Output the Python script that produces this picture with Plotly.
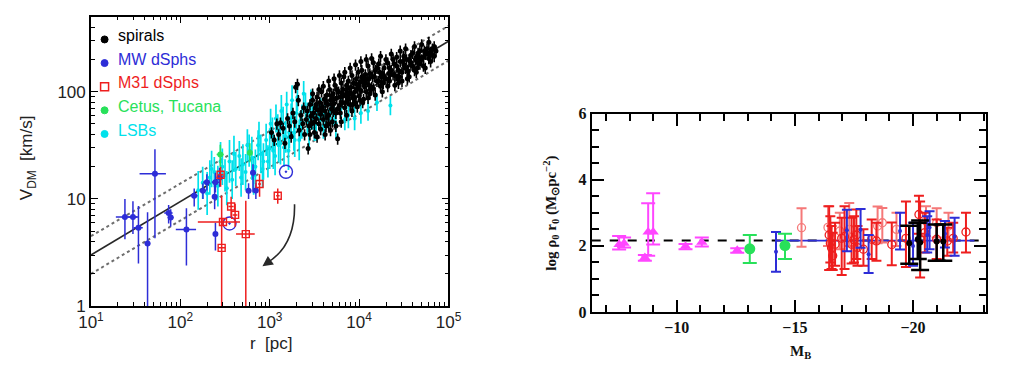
import plotly.graph_objects as go

W, H = 1010, 381

# ---------------- Left panel data: V_DM vs r ----------------
spiral_logr = [3.02,3.05,3.08,3.10,3.12,3.15,3.17,3.20,3.22,3.24,3.26,3.28,3.29,3.31,3.32,3.33,3.35,3.37,3.38,3.39,
               3.41,3.42,3.43,3.44,3.45,3.46,3.47,3.48,3.49,3.50,3.51,3.52,3.53,3.54,3.55,3.56,3.57,3.58,3.59,3.60,
               3.61,3.62,3.63,3.64,3.65,3.66,3.67,3.68,3.69,3.70,3.71,3.72,3.73,3.74,3.75,3.76,3.77,3.78,3.79,3.80,
               3.81,3.82,3.83,3.84,3.85,3.86,3.87,3.88,3.89,3.90,3.91,3.92,3.93,3.94,3.95,3.96,3.97,3.98,3.99,4.00,
               4.01,4.02,4.03,4.04,4.05,4.06,4.07,4.08,4.09,4.10,4.11,4.12,4.14,4.15,4.16,4.18,4.20,4.22,4.24,4.26,
               4.28,4.30,4.32,4.34,4.36,4.38,4.40,4.42,4.44,4.46,4.48,4.50,4.52,4.54,4.56,4.58,4.60,4.62,4.64,4.66,
               4.68,4.70,4.72,4.74,4.76,4.78,4.80,4.82,4.84,3.58,3.72,3.86,3.95,4.05,4.13,4.25,4.35,4.45,4.55,4.65,
               3.45,3.48,3.50,3.53,3.55,3.57,3.60,3.62,3.64,3.66,3.68,3.70,3.72,3.74,3.76,3.78,3.80,3.82,3.84,3.86,
               3.88,3.90,3.92,3.94,3.96,3.98,4.00,4.02,4.04,4.06,4.08,4.10,4.12,4.14,4.16,4.18,4.20,4.22,4.24,4.26,
               4.28,4.30,4.32,4.34,4.36,4.38,4.40,4.42,4.44,4.46,4.48,4.50,4.52,4.54,4.56,4.58,4.60,4.62,4.64,4.66,
               4.68,4.70,4.72,4.74,4.76,4.78,4.80,4.82,4.84,4.86,3.52,3.58,3.63,3.69,3.75,3.81,3.87,3.91,3.97,4.03,
               4.07,4.11,4.17,4.23,4.27,4.33,4.39,4.43,4.49,4.53,4.57,4.63,4.67,4.73,4.79,3.66,3.71,3.79,3.85,3.93,
               4.01]
spiral_logv = [1.62,1.55,1.70,1.60,1.71,1.66,1.52,1.75,1.68,1.58,1.80,1.72,2.04,2.07,1.92,1.64,1.78,1.70,1.85,1.60,
               1.74,1.82,1.47,1.68,1.88,1.77,1.70,1.92,1.80,1.62,1.85,1.75,1.95,1.83,1.70,1.90,1.79,2.00,1.86,1.74,
               1.93,1.82,1.68,1.97,1.88,1.78,2.02,1.92,1.84,1.72,1.98,1.89,2.06,1.80,1.94,1.56,2.00,1.87,1.95,2.08,
               1.90,2.02,2.14,1.85,1.97,2.06,1.92,2.10,1.99,1.88,2.04,2.15,1.95,2.08,2.00,1.90,2.12,2.03,2.18,1.96,
               2.09,2.01,2.20,2.11,1.93,2.05,2.16,2.00,2.12,2.24,2.06,1.98,2.31,2.14,2.03,2.20,2.10,2.26,2.05,2.17,
               2.22,2.12,2.27,2.10,2.20,2.30,2.15,2.24,2.08,2.28,2.18,2.33,2.22,2.12,2.30,2.25,2.36,2.20,2.32,2.27,
               2.38,2.30,2.24,2.35,2.40,2.31,2.37,2.34,2.42,1.84,1.93,1.98,1.94,2.08,2.02,2.14,2.16,2.14,2.19,2.22,
               1.60,1.98,1.72,1.58,2.02,1.65,2.05,1.60,1.76,2.10,1.64,1.88,2.12,1.68,1.84,2.15,1.72,1.96,2.18,1.78,
               1.94,2.22,1.82,1.95,2.25,1.86,2.06,2.28,1.90,2.12,2.30,1.94,2.17,2.04,2.27,1.97,2.22,2.10,2.33,2.00,
               2.14,2.30,2.05,2.22,2.35,2.16,2.06,2.32,2.20,2.38,2.10,2.25,2.40,2.20,2.14,2.34,2.24,2.42,2.18,2.36,
               2.26,2.44,2.32,2.22,2.35,2.46,2.28,2.40,2.33,2.38,1.88,1.84,1.90,1.96,2.02,1.99,2.03,1.98,2.07,2.14,
               2.08,2.12,2.14,2.18,2.08,2.17,2.26,2.12,2.28,2.30,2.28,2.30,2.32,2.38,2.36,1.70,1.82,1.80,1.90,1.88,
               1.92]

lsb_logr = [2.20,2.25,2.30,2.33,2.38,2.42,2.47,2.50,2.55,2.58,2.62,2.66,2.70,2.73,2.77,2.80,2.84,2.87,2.90,2.93,
            2.96,3.00,3.03,3.06,3.09,3.12,3.15,3.18,3.21,3.24,3.27,3.30,3.33,3.36,3.40,3.44,3.48,3.52,3.57,3.62,
            3.68,3.74,3.80,3.88,3.95,4.02,4.10,4.20,4.35,
            2.98,3.01,3.04,3.07,3.10,3.13,3.16,3.19,3.22,3.25,3.28,3.31,3.34,3.38,3.42,3.46,3.50,3.55,3.60,3.66,
            3.72,3.84,2.35,2.45,2.52,2.60,2.68,2.75,2.82,2.88,2.92]
lsb_logv = [1.08,1.15,1.05,1.20,1.25,1.12,1.30,1.22,1.35,1.18,1.28,1.40,1.32,1.25,1.45,1.38,1.30,1.50,1.42,1.35,
            1.55,1.47,1.60,1.40,1.65,1.52,1.70,1.58,1.45,1.75,1.62,1.80,1.55,1.72,1.85,1.65,1.78,1.70,1.82,1.75,
            1.80,1.70,1.86,1.78,1.75,1.80,1.82,1.90,1.87,
            1.35,1.70,1.45,1.75,1.50,1.82,1.48,1.88,1.62,1.92,1.55,1.95,1.68,1.98,1.75,1.90,1.66,1.78,1.68,1.74,
            1.78,1.74,1.28,1.35,1.10,1.42,1.20,1.50,1.22,1.58,1.28]
lsb_dlog = [0.18,0.15,0.20,0.16,0.14,0.19,0.17,0.15,0.20,0.18,0.16,0.14,0.19,0.17,0.15,0.20,0.16,0.14,0.18,0.17,
            0.15,0.19,0.16,0.18,0.14,0.20,0.16,0.15,0.18,0.14,0.17,0.15,0.19,0.16,0.14,0.18,0.13,0.16,0.12,0.15,
            0.11,0.14,0.10,0.12,0.11,0.10,0.09,0.08,0.09,
            0.15,0.14,0.17,0.13,0.16,0.15,0.18,0.12,0.15,0.14,0.16,0.13,0.14,0.12,0.15,0.12,0.12,0.10,0.12,0.10,
            0.10,0.10,0.17,0.18,0.16,0.17,0.18,0.15,0.18,0.14,0.17]

mw_r    = [24, 29.5, 34, 43, 52, 74, 78, 117, 143, 179, 198, 247, 275, 242, 247, 580, 650, 700]
mw_v    = [6.8, 6.8, 5.4, 3.85, 17.2, 7.4, 6.7, 5.2, 10.7, 11.9, 14.3, 14.3, 15.8, 10.5, 4.7, 11.9, 17.5, 12.0]
mw_rlo  = [19, 26, 30, 40, 35, 66, 72, 89, 130, 165, 180, 225, 255, 230, 238, 540, 610, 670]
mw_rhi  = [34, 33, 38, 46, 69, 82, 84, 150, 156, 195, 215, 270, 300, 255, 256, 620, 700, 730]
mw_vlo  = [4.2, 4.7, 2.5, 0.5, 4.3, 5.9, 5.5, 2.4, 8.5, 10.0, 12.0, 11.5, 13.0, 8.0, 3.3, 10.0, 11.5, 10.0]
mw_vhi  = [10.0, 9.5, 8.6, 7.5, 29, 8.8, 8.0, 8.2, 12.5, 14.0, 17.0, 17.5, 19.5, 13.5, 6.0, 14.0, 21.0, 14.0]
mw_circ_r = [355, 1520]
mw_circ_v = [5.9, 17.9]

m31_r   = [282, 290, 370, 410, 540, 770, 1230, 300]
m31_v   = [16.8, 3.5, 8.5, 7.1, 4.7, 13.8, 10.7, 6.1]
m31_rlo = [265, 265, 345, 385, 420, 740, 1180, 157]
m31_rhi = [300, 320, 395, 435, 680, 800, 1290, 465]
m31_vlo = [13, 0.5, 6.8, 5.5, 0.5, 10.5, 9.0, 5.6]
m31_vhi = [20, 10.7, 10.5, 9.0, 9.6, 17, 12.5, 6.6]

ct_r   = [280, 600]
ct_v   = [26, 27]
ct_rlo = [255, 570]
ct_rhi = [305, 630]
ct_vlo = [20, 22]
ct_vhi = [32, 33]

fit_r    = [10, 1e5]
fit_v    = [3.0, 295]
fit_v_hi = [4.5, 410]
fit_v_lo = [2.0, 195]

# ---------------- Right panel data: log rho0 r0 vs M_B ----------------
mag_M  = [-7.56, -7.77, -8.65, -8.79, -9.00, -10.37, -11.06, -12.56]
mag_y  = [2.04, 2.08, 1.65, 2.42, 2.42, 1.99, 2.11, 1.87]
mag_lo = [1.89, 1.95, 1.55, 1.70, 2.04, 1.90, 1.98, 1.79]
mag_hi = [2.30, 2.25, 1.72, 3.29, 3.59, 2.06, 2.25, 1.93]

grn_M  = [-13.09, -14.58]
grn_y  = [1.91, 2.01]
grn_lo = [1.48, 1.60]
grn_hi = [2.33, 2.37]

blu_M  = [-14.20, -17.20, -17.78, -18.12, -19.45, -20.00, -20.60, -20.70, -21.35, -21.76]
blu_y  = [1.82, 2.47, 2.49, 1.75, 2.45, 2.00, 2.33, 2.56, 2.37, 2.28]
blu_lo = [1.22, 1.84, 1.94, 1.18, 1.89, 1.40, 1.80, 1.90, 1.95, 1.70]
blu_hi = [2.42, 3.09, 3.12, 2.33, 3.00, 2.70, 2.90, 3.05, 2.75, 2.85]

red_M  = [-16.45, -16.50, -16.55, -16.60, -16.70, -16.98, -17.10, -17.40, -17.50, -17.60, -17.65, -17.90,
          -18.25, -18.45, -19.10, -19.70, -20.25, -20.30, -20.50, -21.00, -21.45, -21.70, -22.24]
red_y  = [2.33, 2.08, 1.94, 1.70, 2.05, 2.23, 2.28, 2.05, 2.19, 2.33, 1.95, 1.90,
          2.20, 2.15, 2.04, 2.23, 2.95, 2.18, 2.40, 2.20, 2.15, 2.23, 2.42]
red_lo = [1.27, 1.50, 1.30, 1.27, 1.40, 1.12, 1.30, 1.47, 1.50, 1.60, 1.40, 1.40,
          1.60, 1.55, 1.41, 1.36, 2.37, 1.04, 1.80, 1.60, 1.70, 1.80, 1.80]
red_hi = [3.20, 2.90, 2.60, 2.40, 2.70, 2.85, 3.20, 2.85, 2.90, 3.10, 2.60, 2.50,
          2.80, 2.70, 2.71, 3.34, 3.52, 3.34, 3.00, 2.80, 2.55, 2.70, 3.00]

pnk_M  = [-15.28, -16.40, -16.90, -17.30, -18.50, -18.70, -19.30, -20.55, -21.00, -21.50]
pnk_y  = [2.55, 2.56, 2.45, 2.50, 2.60, 2.70, 2.50, 2.75, 2.70, 2.60]
pnk_lo = [1.97, 2.00, 1.90, 2.00, 2.08, 2.10, 2.00, 2.30, 2.25, 2.20]
pnk_hi = [3.14, 3.20, 3.00, 3.30, 3.19, 3.15, 3.00, 3.20, 3.14, 3.00]

blk_M  = [-19.84, -20.20, -20.30, -21.00, -21.28]
blk_y  = [2.08, 2.20, 2.10, 2.13, 2.13]
blk_lo = [1.46, 1.60, 1.27, 1.55, 1.55]
blk_hi = [2.61, 2.70, 2.77, 2.65, 2.65]

fit_level = 2.16
fit_M_full = [-6.4, -23.1]
blue_fit_M = [-14.2, -22.6]

# ---------------- colours ----------------
C_BLUE = "rgb(45,45,215)"
C_RED = "rgb(238,30,30)"
C_PINK = "rgb(245,120,120)"
C_GREEN = "rgb(40,225,90)"
C_CYAN = "rgb(0,225,235)"
C_MAG = "rgb(255,70,255)"


def asym(v, lo, hi, color, thick=1.5, width=0):
    return dict(type="data", symmetric=False,
                array=[h - x for x, h in zip(v, hi)],
                arrayminus=[x - l for x, l in zip(v, lo)],
                color=color, thickness=thick, width=width)


fig = go.Figure()

# fit lines (left)
fig.add_trace(go.Scatter(x=fit_r, y=fit_v_hi, mode="lines",
                         line=dict(color="rgb(110,110,110)", width=2, dash="dot")))
fig.add_trace(go.Scatter(x=fit_r, y=fit_v_lo, mode="lines",
                         line=dict(color="rgb(110,110,110)", width=2, dash="dot")))
fig.add_trace(go.Scatter(x=fit_r, y=fit_v, mode="lines",
                         line=dict(color="rgb(40,40,40)", width=1.6)))

# LSBs
lsb_r = [10 ** a for a in lsb_logr]
lsb_v = [10 ** a for a in lsb_logv]
lsb_lo = [10 ** (a - d) for a, d in zip(lsb_logv, lsb_dlog)]
lsb_hi = [10 ** (a + d) for a, d in zip(lsb_logv, lsb_dlog)]
fig.add_trace(go.Scatter(x=lsb_r, y=lsb_v, mode="markers",
                         marker=dict(color=C_CYAN, size=4),
                         error_y=asym(lsb_v, lsb_lo, lsb_hi, C_CYAN, 1.7)))

# spirals
sp_r = [10 ** a for a in spiral_logr]
sp_v = [10 ** a for a in spiral_logv]
fig.add_trace(go.Scatter(x=sp_r, y=sp_v, mode="markers",
                         marker=dict(color="black", size=5),
                         error_y=dict(type="percent", value=12, color="black", thickness=1.6, width=0)))

# MW dSphs
fig.add_trace(go.Scatter(x=mw_r, y=mw_v, mode="markers",
                         marker=dict(color=C_BLUE, size=6),
                         error_x=asym(mw_r, mw_rlo, mw_rhi, C_BLUE, 1.5),
                         error_y=asym(mw_v, mw_vlo, mw_vhi, C_BLUE, 1.5)))
fig.add_trace(go.Scatter(x=mw_circ_r, y=mw_circ_v, mode="markers",
                         marker=dict(color=C_BLUE, size=13, symbol="circle-open-dot",
                                     line=dict(width=1.4, color=C_BLUE))))

# M31 dSphs
fig.add_trace(go.Scatter(x=m31_r, y=m31_v, mode="markers",
                         marker=dict(color=C_RED, size=7, symbol="square-open", line=dict(width=1.4)),
                         error_x=asym(m31_r, m31_rlo, m31_rhi, C_RED, 1.5),
                         error_y=asym(m31_v, m31_vlo, m31_vhi, C_RED, 1.5)))

# Cetus, Tucana
fig.add_trace(go.Scatter(x=ct_r, y=ct_v, mode="markers",
                         marker=dict(color=C_GREEN, size=6),
                         error_x=asym(ct_r, ct_rlo, ct_rhi, C_GREEN, 1.5),
                         error_y=asym(ct_v, ct_vlo, ct_vhi, C_GREEN, 1.5)))

# ---------------- right panel traces ----------------
R = dict(xaxis="x2", yaxis="y2")
fig.add_trace(go.Scatter(x=fit_M_full, y=[fit_level] * 2, mode="lines",
                         line=dict(color="black", width=2, dash="dash"), **R))
fig.add_trace(go.Scatter(x=blue_fit_M, y=[fit_level] * 2, mode="lines",
                         line=dict(color=C_BLUE, width=1.6), **R))
fig.add_trace(go.Scatter(x=pnk_M, y=pnk_y, mode="markers",
                         marker=dict(color=C_PINK, size=8, symbol="circle-open", line=dict(width=1.3)),
                         error_y=asym(pnk_y, pnk_lo, pnk_hi, C_PINK, 2, 5), **R))
fig.add_trace(go.Scatter(x=red_M, y=red_y, mode="markers",
                         marker=dict(color=C_RED, size=8, symbol="circle-open", line=dict(width=1.3)),
                         error_y=asym(red_y, red_lo, red_hi, C_RED, 2, 5), **R))
fig.add_trace(go.Scatter(x=blu_M, y=blu_y, mode="markers",
                         marker=dict(color=C_BLUE, size=4),
                         error_y=asym(blu_y, blu_lo, blu_hi, C_BLUE, 2, 5), **R))
fig.add_trace(go.Scatter(x=blk_M, y=blk_y, mode="markers",
                         marker=dict(color="black", size=6),
                         error_y=asym(blk_y, blk_lo, blk_hi, "black", 2.5, 9), **R))
fig.add_trace(go.Scatter(x=mag_M, y=mag_y, mode="markers",
                         marker=dict(color=C_MAG, size=10, symbol="triangle-up"),
                         error_y=asym(mag_y, mag_lo, mag_hi, C_MAG, 2, 7), **R))
fig.add_trace(go.Scatter(x=grn_M, y=grn_y, mode="markers",
                         marker=dict(color=C_GREEN, size=11),
                         error_y=asym(grn_y, grn_lo, grn_hi, C_GREEN, 2, 7), **R))

# ---------------- axes ----------------
SANS = "Liberation Sans, Arial, sans-serif"
SERIF = "Liberation Serif, Times New Roman, serif"

def minor_log(decades, extra=()):
    vals = []
    for d in decades:
        for m in range(2, 10):
            vals.append(m * 10 ** d)
    return vals + list(extra)

common = dict(showline=True, linecolor="black", mirror="ticks", ticks="inside",
              tickcolor="black", showgrid=False, zeroline=False)

fig.update_layout(
    width=W, height=H, autosize=False, margin=dict(l=0, r=0, t=0, b=0),
    paper_bgcolor="white", plot_bgcolor="white", showlegend=False,
    xaxis=dict(type="log", range=[1, 5], domain=[80 / W, 447 / W], anchor="y",
               tickvals=[10, 100, 1000, 1e4, 1e5],
               ticktext=["10<sup>1</sup>", "10<sup>2</sup>", "10<sup>3</sup>", "10<sup>4</sup>", "10<sup>5</sup>"],
               ticklen=7, tickwidth=1.2, linewidth=1.5,
               tickfont=dict(family=SANS, size=17, color="#222"),
               minor=dict(tickvals=minor_log([1, 2, 3, 4]), ticks="inside", ticklen=4,
                          tickwidth=1, tickcolor="black", showgrid=False),
               **common),
    yaxis=dict(type="log", range=[0, 2.70], domain=[(H - 313) / H, (H - 9) / H], anchor="x",
               tickvals=[1, 10, 100], ticktext=["1", "10", "100"],
               ticklen=7, tickwidth=1.2, linewidth=1.5,
               tickfont=dict(family=SANS, size=17, color="#222"),
               minor=dict(tickvals=minor_log([0, 1], [200, 300, 400]), ticks="inside", ticklen=4,
                          tickwidth=1, tickcolor="black", showgrid=False),
               **common),
    xaxis2=dict(range=[-6.4, -23.1], domain=[594 / W, 999 / W], anchor="y2",
                tickvals=[-10, -15, -20], ticktext=["\u221210", "\u221215", "\u221220"],
                ticklen=12, tickwidth=2, linewidth=2,
                tickfont=dict(family=SERIF, size=16, color="#111", weight="bold"),
                minor=dict(dtick=1, tick0=0, ticks="inside", ticklen=7, tickwidth=1.6,
                           tickcolor="black", showgrid=False),
                **common),
    yaxis2=dict(range=[0, 6], domain=[(H - 319) / H, (H - 111) / H], anchor="x2",
                tickvals=[0, 2, 4, 6], ticklen=12, tickwidth=2, linewidth=2,
                tickfont=dict(family=SERIF, size=16, color="#111", weight="bold"),
                minor=dict(dtick=0.5, tick0=0, ticks="inside", ticklen=7, tickwidth=1.6,
                           tickcolor="black", showgrid=False),
                **common),
)

# ---------------- titles ----------------
ann = []
ann.append(dict(text="r  [pc]", x=265 / W, y=1 - 352 / H, xref="paper", yref="paper",
                xanchor="center", yanchor="middle",
                showarrow=False, font=dict(family=SANS, size=17, color="#222")))
ann.append(dict(text="V<sub>DM</sub>  [km/s]", x=15 / W, y=1 - 157 / H, xref="paper", yref="paper",
                xanchor="center", yanchor="middle",
                showarrow=False, textangle=-90, font=dict(family=SANS, size=17, color="#222")))
ann.append(dict(text="log \u03c1<sub>0</sub> r<sub>0</sub> (M<sub>\u2299</sub>pc<sup>\u22122</sup>)",
                x=552 / W, y=1 - 215 / H, xref="paper", yref="paper", showarrow=False, textangle=-90,
                xanchor="center", yanchor="middle",
                font=dict(family=SERIF, size=15, color="#111", weight="bold")))
ann.append(dict(text="M<sub>B</sub>", x=808 / W, y=1 - 361 / H, xref="paper", yref="paper",
                xanchor="center", yanchor="middle",
                showarrow=False, font=dict(family=SERIF, size=15, color="#111", weight="bold")))

# legend (left panel)
legend_items = [("spirals", "black"), ("MW dSphs", C_BLUE), ("M31 dSphs", C_RED),
                ("Cetus, Tucana", C_GREEN), ("LSBs", C_CYAN)]
shapes = []
for i, (name, col) in enumerate(legend_items):
    ty = 29 + 24.8 * i
    ann.append(dict(text=name, x=106 / W, y=1 - ty / H, xref="paper", yref="paper",
                    xanchor="left", yanchor="middle", showarrow=False,
                    font=dict(family=SANS, size=16, color=col)))
    my = ty + 4
    if name == "M31 dSphs":
        shapes.append(dict(type="rect", xref="paper", yref="paper", xsizemode="pixel", ysizemode="pixel",
                           xanchor=94 / W, yanchor=1 - my / H, x0=-4, x1=4, y0=-4, y1=4,
                           line=dict(color=C_RED, width=1.5), fillcolor="white"))
    else:
        shapes.append(dict(type="circle", xref="paper", yref="paper", xsizemode="pixel", ysizemode="pixel",
                           xanchor=94 / W, yanchor=1 - my / H, x0=-3.5, x1=3.5, y0=-3.5, y1=3.5,
                           line=dict(color=col, width=1), fillcolor=col))

# curved arrow
p0 = (289, 206); pc = (290, 250); p1 = (260, 268)
path = "M {:.4f} {:.4f} Q {:.4f} {:.4f} {:.4f} {:.4f}".format(
    p0[0] / W, 1 - p0[1] / H, pc[0] / W, 1 - pc[1] / H, p1[0] / W, 1 - p1[1] / H)
shapes.append(dict(type="path", xref="paper", yref="paper", path=path,
                   line=dict(color="rgb(40,40,40)", width=1.6)))
ann.append(dict(text="", x=256 / W, y=1 - 271 / H, xref="paper", yref="paper",
                ax=7, ay=-5, showarrow=True, arrowhead=2, arrowsize=1.3, arrowwidth=1.6,
                arrowcolor="rgb(40,40,40)", standoff=0))

fig.update_layout(annotations=ann, shapes=shapes)
fig.write_html(
    "out.html",
    config={"displayModeBar": False, "responsive": False},
    post_script=("document.body.style.margin='0px';document.body.style.padding='0px';"
                 "document.body.style.overflow='hidden';"
                 "var gd=document.getElementById('{plot_id}');"
                 "Plotly.relayout(gd,{width:1010,height:381});"),
)
